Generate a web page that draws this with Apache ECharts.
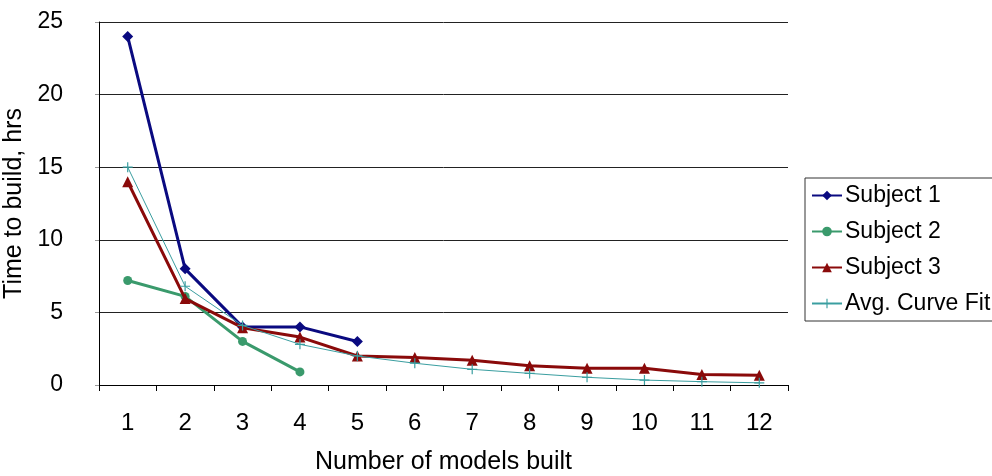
<!DOCTYPE html>
<html>
<head>
<meta charset="utf-8">
<script src="https://cdn.jsdelivr.net/npm/echarts@6/dist/echarts.min.js"></script>
<style>
html,body{margin:0;padding:0;background:#fff;}
#chart{width:992px;height:476px;}
</style>
</head>
<body>
<div id="chart"></div>
<script>
const categories = ['1','2','3','4','5','6','7','8','9','10','11','12'];
const subject1 = [24, 8, 4, 4, 3];
const subject2 = [7.2, 6.1, 3, 0.9];
const subject3 = [14, 5.95, 3.95, 3.3, 2.0, 1.9, 1.7, 1.33, 1.15, 1.15, 0.73, 0.67];
const avgFit = [15, 6.8, 4.1, 2.8, 2.0, 1.5, 1.08, 0.8, 0.53, 0.34, 0.23, 0.15];
const yTicks = { min: 0, max: 25, interval: 5 };

const FONT = 'Liberation Sans, Arial, sans-serif';
const plus = 'path://M4.4,0 H5.6 V4.4 H10 V5.6 H5.6 V10 H4.4 V5.6 H0 V4.4 H4.4 Z';

const chart = echarts.init(document.getElementById('chart'), null, {renderer: 'canvas'});
chart.setOption({
  backgroundColor: '#ffffff',
  animation: false,
  textStyle: { fontFamily: FONT },
  grid: { left: 99, top: 22, right: 204, bottom: 91, containLabel: false, outerBoundsMode: 'none' },
  legend: {
    orient: 'vertical',
    left: 805,
    top: 178,
    padding: [6, 60, 6, 6],
    itemWidth: 30,
    itemHeight: 12,
    itemGap: 13,
    borderColor: '#333',
    borderWidth: 1,
    textStyle: { fontFamily: FONT, fontSize: 23, color: '#000', lineHeight: 23, padding: [0, 0, 0, -2] },
    data: ['Subject 1', 'Subject 2', 'Subject 3', 'Avg. Curve Fit']
  },
  xAxis: {
    type: 'category',
    data: categories,
    boundaryGap: true,
    name: 'Number of models built',
    nameLocation: 'middle',
    nameGap: 65,
    nameTextStyle: { fontFamily: FONT, fontSize: 25, color: '#000' },
    axisLine: { lineStyle: { color: '#000', width: 1 } },
    axisTick: { show: true, length: 6, lineStyle: { color: '#000' } },
    axisLabel: { fontFamily: FONT, fontSize: 24, color: '#000', margin: 26 },
    splitLine: { show: false }
  },
  yAxis: {
    type: 'value',
    min: yTicks.min,
    max: yTicks.max,
    interval: yTicks.interval,
    name: 'Time to build, hrs',
    nameLocation: 'middle',
    nameGap: 62,
    nameRotate: 90,
    nameTextStyle: { fontFamily: FONT, fontSize: 25, color: '#000' },
    axisLine: { show: true, lineStyle: { color: '#000', width: 1 } },
    axisTick: { show: true, length: 4, lineStyle: { color: '#999' } },
    axisLabel: { fontFamily: FONT, fontSize: 23, color: '#000', margin: 36 },
    splitLine: { show: true, lineStyle: { color: '#222', width: 1 } }
  },
  series: [
    {
      name: 'Subject 1', type: 'line', data: subject1,
      symbol: 'diamond', symbolSize: 11, showAllSymbol: true,
      lineStyle: { color: '#0a0a80', width: 3 },
      itemStyle: { color: '#0a0a80' }, z: 4
    },
    {
      name: 'Subject 2', type: 'line', data: subject2,
      symbol: 'circle', symbolSize: 9, showAllSymbol: true,
      lineStyle: { color: '#3a9a6c', width: 3 },
      itemStyle: { color: '#3a9a6c' }, z: 3
    },
    {
      name: 'Subject 3', type: 'line', data: subject3,
      symbol: 'triangle', symbolSize: 11, showAllSymbol: true,
      lineStyle: { color: '#8a0a0a', width: 3 },
      itemStyle: { color: '#8a0a0a' }, z: 5
    },
    {
      name: 'Avg. Curve Fit', type: 'line', data: avgFit,
      symbol: plus, symbolSize: 10, showAllSymbol: true,
      lineStyle: { color: '#3a9ea0', width: 1 },
      itemStyle: { color: '#3a9ea0' }, z: 6
    }
  ]
});
</script>
</body>
</html>
